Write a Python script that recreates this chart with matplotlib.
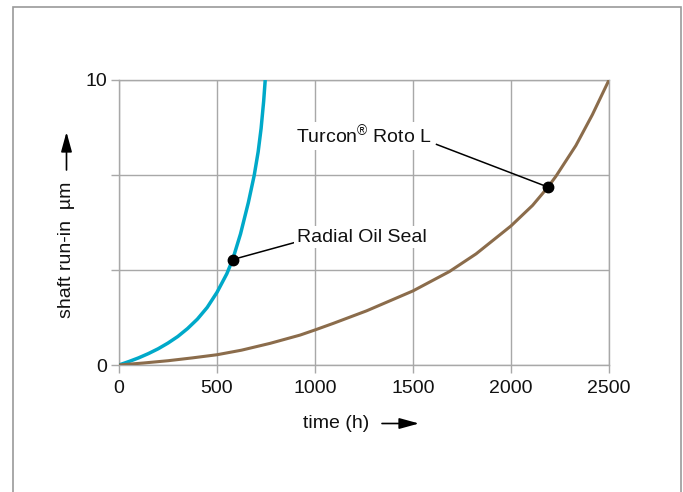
import matplotlib
matplotlib.use("Agg")
import matplotlib.pyplot as plt
from matplotlib.patches import Rectangle, FancyArrowPatch

plt.rcParams['font.family'] = ['Liberation Sans', 'DejaVu Sans']
plt.rcParams['mathtext.fontset'] = 'custom'
plt.rcParams['mathtext.rm'] = 'Liberation Sans'
plt.rcParams['mathtext.it'] = 'Liberation Sans'
plt.rcParams['mathtext.bf'] = 'Liberation Sans'

# Data
seal_time = [0, 50, 100, 150, 200, 250, 300, 350, 400, 450, 500, 550, 580, 620,
             660, 690, 710, 725, 738, 746]
seal_runin = [0, 0.12, 0.25, 0.40, 0.57, 0.77, 1.00, 1.28, 1.61, 2.02, 2.55, 3.20, 3.70, 4.60,
              5.70, 6.66, 7.48, 8.30, 9.25, 10.0]

turcon_time = [0, 125, 250, 375, 500, 625, 771, 924, 1000, 1093, 1263, 1500, 1686, 1822,
               2000, 2110, 2186, 2229, 2331, 2415, 2500]
turcon_runin = [0, 0.07, 0.15, 0.25, 0.36, 0.52, 0.76, 1.05, 1.23, 1.46, 1.90, 2.60, 3.28, 3.90,
                4.88, 5.60, 6.22, 6.62, 7.70, 8.78, 10.0]

x_ticks = [0, 500, 1000, 1500, 2000, 2500]
x_ticklabels = ['0', '500', '1000', '1500', '2000', '2500']
y_ticks = [0, 10 / 3, 20 / 3, 10]
y_ticklabels = ['0', '', '', '10']

seal_label = 'Radial Oil Seal'
turcon_label = 'Turcon$^{\u00ae}$ Roto L'
seal_marker = (580, 3.70)
turcon_marker = (2190, 6.24)

W, H = 683, 492
fig = plt.figure(figsize=(W / 100, H / 100), dpi=100)
fig.patch.set_facecolor('white')

ax = fig.add_axes([119 / W, 1 - 365 / H, 490 / W, 285 / H])
grid_c = '#a8a8a8'
ax.set_xlim(0, 2500)
ax.set_ylim(0, 10)
ax.set_xticks(x_ticks)
ax.set_xticklabels(x_ticklabels)
ax.set_yticks(y_ticks)
ax.set_yticklabels(y_ticklabels)
ax.grid(True, color=grid_c, linewidth=1.0)
ax.set_axisbelow(True)
for s in ax.spines.values():
    s.set_color(grid_c)
    s.set_linewidth(1.0)
ax.tick_params(axis='both', direction='out', length=5.5, width=1.0, color=grid_c,
               labelsize=14, labelcolor='#111111')
ax.tick_params(axis='x', pad=5.5)
ax.tick_params(axis='y', pad=3)

cyan = '#00A9C9'
brown = '#8B6C4B'
ax.plot(seal_time, seal_runin, color=cyan, linewidth=2.5, solid_capstyle='butt',
        solid_joinstyle='round', zorder=3)
ax.plot(turcon_time, turcon_runin, color=brown, linewidth=2.2, solid_capstyle='butt',
        solid_joinstyle='round', zorder=3)

# annotations
ax.plot([seal_marker[0], 892], [seal_marker[1], 4.29], color='black', linewidth=1.1, zorder=4)
ax.plot([turcon_marker[0], 1620], [turcon_marker[1], 7.74], color='black', linewidth=1.1, zorder=4)
ax.plot(*seal_marker, 'o', color='black', markersize=7.5, zorder=5)
ax.plot(*turcon_marker, 'o', color='black', markersize=7.5, zorder=5)
ax.text(906, 4.33, seal_label, fontsize=14, ha='left', va='baseline', color='#111111',
        bbox=dict(facecolor='white', edgecolor='none', pad=1.5), zorder=4)
ax.text(1594, 7.77, turcon_label, fontsize=14, ha='right', va='baseline', color='#111111',
        bbox=dict(facecolor='white', edgecolor='none', pad=1.5), zorder=4)

# axis labels with arrows
fig.text(336 / W, 1 - 424 / H, 'time (h)', fontsize=14, ha='center', va='center', color='#111111')
fig.text(66.5 / W, 1 - 250 / H, 'shaft run-in  \u00b5m', fontsize=14, ha='center', va='center',
         rotation=90, color='#111111')

arrow_style = '-|>,head_length=1.2,head_width=0.33'
fig.patches.append(FancyArrowPatch((382 / W, 1 - 423.5 / H), (419 / W, 1 - 423.5 / H),
                                   transform=fig.transFigure, arrowstyle=arrow_style,
                                   mutation_scale=10, color='black', linewidth=1.2,
                                   shrinkA=0, shrinkB=0))
fig.patches.append(FancyArrowPatch((66.5 / W, 1 - 170 / H), (66.5 / W, 1 - 132 / H),
                                   transform=fig.transFigure, arrowstyle=arrow_style,
                                   mutation_scale=10, color='black', linewidth=1.2,
                                   shrinkA=0, shrinkB=0))

# outer frame
fig.patches.append(Rectangle((13 / W, -0.1), (681 - 13) / W, (1 - 7 / H) + 0.1,
                             transform=fig.transFigure, fill=False, edgecolor='#9a9a9a',
                             linewidth=1.2))

fig.savefig('out.png', dpi=100)
